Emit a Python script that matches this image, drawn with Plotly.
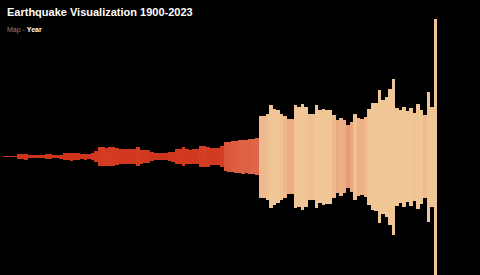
import plotly.graph_objects as go

years = list(range(1900, 2024))

# yearly earthquake counts (arbitrary units)
counts = [
    3, 5, 5, 5, 25, 25, 30, 15, 18, 18,          # 1900-1909
    18, 18, 28, 25, 18, 18, 20, 38, 38, 40,      # 1910-1919
    38, 35, 28, 30, 28, 35, 58, 92, 95, 90,      # 1920-1929
    95, 92, 85, 75, 72, 75, 72, 75, 98, 70,      # 1930-1939
    68, 65, 45, 35, 32, 32, 33, 48, 50, 75,      # 1940-1949
    78, 92, 72, 70, 73, 72, 102, 105, 100, 82,   # 1950-1959
    85, 82, 105, 148, 150, 158, 160, 168, 170, 168,  # 1960-1969
    172, 175, 182, 410, 410, 430, 515, 480, 465, 430,  # 1970-1979
    410, 375, 375, 515, 500, 530, 500, 430, 430, 515,  # 1980-1989
    465, 480, 470, 470, 415, 365, 390, 365, 315, 350,  # 1990-1999
    430, 390, 380, 400, 480, 535, 540, 665, 570, 600,  # 2000-2009
    680, 780, 490, 465, 500, 455, 490, 440, 525, 470,  # 2010-2019
    415, 650, 500, 1380,                               # 2020-2023
]

title_text = "Earthquake Visualization 1900-2023"
subtitle_prefix = "Map - "
subtitle_active = "Year"

fig = go.Figure()
fig.add_trace(go.Bar(
    x=years,
    y=[2 * c for c in counts],
    base=[-c for c in counts],
    marker=dict(
        color=counts,
        colorscale=[[0, "#cc3119"], [0.22, "#d23c21"], [0.38, "#de6345"],
                    [0.7, "#e89c76"], [1, "#f1c696"]],
        cmin=0, cmax=450,
        line=dict(width=0),
    ),
    hoverinfo="x+text",
    text=[str(c) for c in counts],
    textposition="none",
))

fig.update_layout(
    width=480, height=275,
    margin=dict(l=0, r=0, t=0, b=0),
    paper_bgcolor="#000000",
    plot_bgcolor="#000000",
    bargap=0,
    showlegend=False,
    xaxis=dict(range=[1898.644, 2035.67], visible=False, fixedrange=True),
    yaxis=dict(range=[-1185, 1565], visible=False, fixedrange=True),
    font=dict(family="Liberation Sans, Arial, Helvetica, sans-serif", color="#ffffff"),
    annotations=[
        dict(text="<b>" + title_text + "</b>", xref="paper", yref="paper",
             x=5 / 480, y=1 - 4 / 275, xanchor="left", yanchor="top",
             showarrow=False, font=dict(size=11, color="#ffffff")),
        dict(text="<span style='color:#8a8a8a'>" + subtitle_prefix + "</span>"
                  "<span style='color:#ffffff'><b>" + subtitle_active + "</b></span>",
             xref="paper", yref="paper",
             x=5 / 480, y=1 - 24 / 275, xanchor="left", yanchor="top",
             showarrow=False, font=dict(size=7, color="#ffffff")),
    ],
)

fig.write_html("out.html")
